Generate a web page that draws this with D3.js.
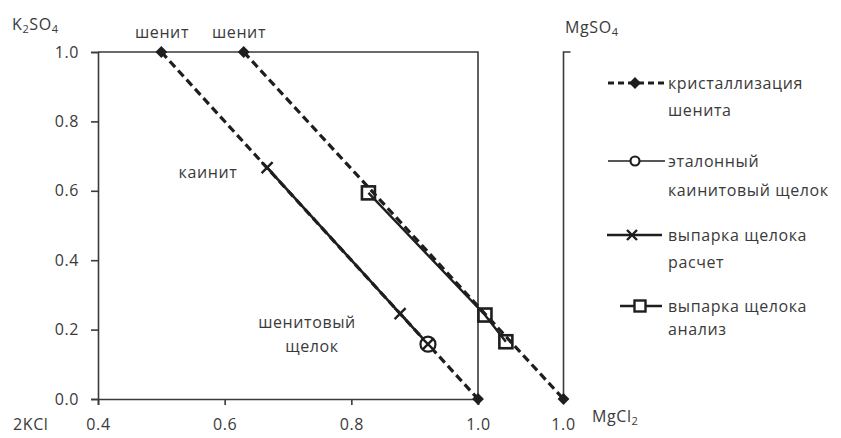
<!DOCTYPE html>
<html>
<head>
<meta charset="utf-8">
<script src="https://cdn.jsdelivr.net/npm/d3@7"></script>
<style>
  body { margin: 0; background: #fff; }
  svg text { font-family: "Open Sans", sans-serif; font-size: 16px; fill: #3a3a3a; letter-spacing: 0.6px; }
</style>
</head>
<body>
<svg id="chart" width="841" height="438"></svg>
<script>
// chart values
var crystA_x = [0.5, 1.0],   crystA_y = [1.0, 0.0];     // кристаллизация шенита (1)
var crystB_x = [0.63, 1.135], crystB_y = [1.0, 0.0];    // кристаллизация шенита (2)
var etalon_x = [0.921],      etalon_y = [0.158];        // эталонный каинитовый щелок
var calc_x = [0.667, 0.877, 0.921], calc_y = [0.667, 0.246, 0.158];   // выпарка расчет
var anal_x = [0.827, 1.011, 1.044], anal_y = [0.594, 0.242, 0.165];   // выпарка анализ
var xTicks = [0.4, 0.6, 0.8, 1.0];
var yTicks = [0.0, 0.2, 0.4, 0.6, 0.8, 1.0];
var mgAxis = 1.135;   // second (MgSO4 / MgCl2) vertex

var zip = function(xs, ys) { return xs.map(function(v, i) { return [v, ys[i]]; }); };

var svg = d3.select("#chart");
var x = d3.scaleLinear().domain([0.4, 1.0]).range([98, 478]);
var y = d3.scaleLinear().domain([0, 1]).range([399, 52]);
var ink = "#1e1e1e", axisCol = "#3a3a3a";
var bottomLabelY = 424;

// axes
svg.append("g").attr("transform", "translate(0,399)")
    .call(d3.axisBottom(x).tickValues(xTicks).tickSize(6).tickFormat(d3.format(".1f")))
    .call(function(g) {
	g.select(".domain").attr("stroke", axisCol).attr("stroke-width", 1.6);
	g.selectAll(".tick line").attr("stroke", axisCol).attr("stroke-width", 1.6);
	g.selectAll(".tick text").attr("y", bottomLabelY - 399).attr("dy", "0.35em").attr("fill", null);
	g.selectAll("text").attr("font-family", null).attr("font-size", null);
    });
svg.append("g").attr("transform", "translate(98,0)")
    .call(d3.axisLeft(y).tickValues(yTicks).tickSize(7).tickPadding(12).tickFormat(d3.format(".1f")))
    .call(function(g) {
	g.select(".domain").attr("stroke", axisCol).attr("stroke-width", 1.6);
	g.selectAll(".tick line").attr("stroke", axisCol).attr("stroke-width", 1.6);
	g.selectAll(".tick text").attr("fill", null);
	g.selectAll("text").attr("font-family", null).attr("font-size", null);
    });

// frame: top and right, plus the MgSO4 side
svg.append("path")
    .attr("d", "M" + x(0.4) + "," + y(1) + "H" + x(1.0) + "V" + y(0))
    .attr("fill", "none").attr("stroke", axisCol).attr("stroke-width", 1.6);
svg.append("path")
    .attr("d", "M" + (x(mgAxis) + 7) + "," + y(1) + "H" + x(mgAxis) + "V" + y(0))
    .attr("fill", "none").attr("stroke", axisCol).attr("stroke-width", 1.6);
svg.append("text").attr("x", x(mgAxis)).attr("y", bottomLabelY).attr("text-anchor", "middle")
    .attr("dy", "0.35em").text("1.0");

var line = d3.line().x(function(d) { return x(d[0]); }).y(function(d) { return y(d[1]); });

// series lines
[zip(crystA_x, crystA_y), zip(crystB_x, crystB_y)].forEach(function(pts) {
    svg.append("path").attr("d", line(pts)).attr("fill", "none")
	.attr("stroke", ink).attr("stroke-width", 3.2).attr("stroke-dasharray", "8,4.5");
});
svg.append("path").attr("d", line(zip(calc_x, calc_y))).attr("fill", "none")
    .attr("stroke", ink).attr("stroke-width", 2.6);
svg.append("path").attr("d", line(zip(anal_x, anal_y))).attr("fill", "none")
    .attr("stroke", ink).attr("stroke-width", 2.4);

// markers
var diamond = d3.symbol().type(d3.symbolSquare).size(70);
var cross = function(s) { return "M" + -s + "," + -s + "L" + s + "," + s + "M" + -s + "," + s + "L" + s + "," + -s; };

function diamonds(g, pts) {
    g.selectAll(null).data(pts).enter().append("path")
	.attr("d", diamond)
	.attr("transform", function(d) { return "translate(" + x(d[0]) + "," + y(d[1]) + ") rotate(45)"; })
	.attr("fill", ink);
}
diamonds(svg, zip(crystA_x, crystA_y));
diamonds(svg, zip(crystB_x, crystB_y));

svg.selectAll(null).data(zip(etalon_x, etalon_y)).enter().append("circle")
    .attr("cx", function(d) { return x(d[0]); }).attr("cy", function(d) { return y(d[1]); })
    .attr("r", 7.5).attr("fill", "#fff").attr("stroke", ink).attr("stroke-width", 2.2);

svg.selectAll(null).data(zip(calc_x, calc_y)).enter().append("path")
    .attr("d", cross(5.5))
    .attr("transform", function(d) { return "translate(" + x(d[0]) + "," + y(d[1]) + ")"; })
    .attr("stroke", ink).attr("stroke-width", 2.4).attr("fill", "none");

svg.selectAll(null).data(zip(anal_x, anal_y)).enter().append("rect")
    .attr("x", function(d) { return x(d[0]) - 6.5; }).attr("y", function(d) { return y(d[1]) - 6.5; })
    .attr("width", 13).attr("height", 13)
    .attr("fill", "none").attr("stroke", ink).attr("stroke-width", 2.6);

// labels on the diagram
function label(tx, ty, str, anchor) {
    return svg.append("text").attr("x", tx).attr("y", ty).attr("dy", "0.35em")
	.attr("text-anchor", anchor || "middle").text(str);
}
label(162, 32, "шенит");
label(239, 32, "шенит");
label(208, 172, "каинит");
label(307, 322, "шенитовый");
label(312, 346, "щелок");
label(13, bottomLabelY, "2KCl", "start");

// chemical formula with subscript digits; parts alternate normal / subscript
function formula(tx, ty, parts) {
    var t = svg.append("text").attr("x", tx).attr("y", ty + 5);
    parts.forEach(function(p, i) {
	var s = t.append("tspan").text(p);
	if (i % 2 == 1) s.attr("font-size", "11px").attr("dy", 3);
	else if (i > 0) s.attr("dy", -3);
    });
}
formula(12, 25, ["K", "2", "SO", "4"]);
formula(565, 28, ["MgSO", "4"]);
formula(592, 417, ["MgCl", "2"]);

// legend
var legend = [
    { y: 83,  x0: 608, x1: 665, mx: 635, dash: "6,4", w: 3, mark: "diamond", lines: ["кристаллизация", "шенита"], gap: 27 },
    { y: 161, x0: 608, x1: 665, mx: 635, dash: null, w: 1.4, mark: "circle", lines: ["эталонный", "каинитовый щелок"], gap: 29 },
    { y: 235, x0: 607, x1: 662, mx: 632, dash: null, w: 2.6, mark: "cross", lines: ["выпарка щелока", "расчет"], gap: 27 },
    { y: 306, x0: 620, x1: 662, mx: 640, dash: null, w: 2.4, mark: "square", lines: ["выпарка щелока", "анализ"], gap: 23 }
];
legend.forEach(function(it) {
    var g = svg.append("g");
    g.append("line").attr("x1", it.x0).attr("x2", it.x1).attr("y1", it.y).attr("y2", it.y)
	.attr("stroke", ink).attr("stroke-width", it.w).attr("stroke-dasharray", it.dash);
    if (it.mark == "diamond") {
	g.append("path").attr("d", diamond).attr("transform", "translate(" + it.mx + "," + it.y + ") rotate(45)").attr("fill", ink);
    } else if (it.mark == "circle") {
	g.append("circle").attr("cx", it.mx).attr("cy", it.y).attr("r", 4.5)
	    .attr("fill", "#fff").attr("stroke", ink).attr("stroke-width", 2.2);
    } else if (it.mark == "cross") {
	g.append("path").attr("d", cross(5)).attr("transform", "translate(" + it.mx + "," + it.y + ")")
	    .attr("stroke", ink).attr("stroke-width", 2.4);
    } else {
	g.append("rect").attr("x", it.mx - 5.5).attr("y", it.y - 5.5).attr("width", 11).attr("height", 11)
	    .attr("fill", "#fff").attr("stroke", ink).attr("stroke-width", 2.4);
    }
    it.lines.forEach(function(s, i) {
	g.append("text").attr("x", 668).attr("y", it.y + i * it.gap).attr("dy", "0.35em").text(s);
    });
});
</script>
</body>
</html>
